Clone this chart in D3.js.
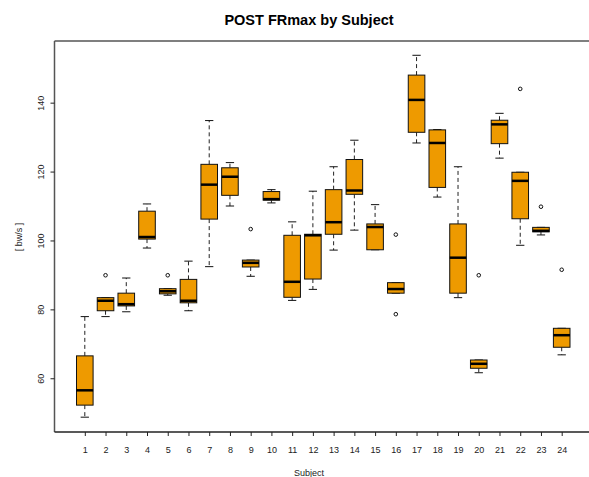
<!DOCTYPE html>
<html><head><meta charset="utf-8">
<script src="https://cdn.jsdelivr.net/npm/d3@7"></script>
<style>body{margin:0;background:#fff}svg{display:block}text{font-family:"Liberation Sans",Arial,sans-serif}</style>
</head><body><svg id="c" width="589" height="477"></svg>
<script>
const subjects = d3.range(1, 25);
const lowW  = [48.7,77.9,79.3,97.8,84.1,79.6,92.4,110.0,89.6,110.9,82.6,85.8,97.2,103.0,97.3,84.7,128.3,112.6,83.4,61.6,123.9,98.6,101.6,66.8];
const q1    = [52.2,79.6,81.0,100.4,84.5,81.9,106.2,113.1,92.3,111.7,83.5,88.8,101.8,113.4,97.3,84.7,131.4,115.4,84.7,62.9,128.1,106.3,102.5,69.0];
const med   = [56.5,82.5,81.5,101.0,85.25,82.5,116.2,118.5,93.5,112.0,88.0,101.5,105.3,114.5,103.9,85.9,140.8,128.3,95.0,64.2,133.7,117.3,102.8,72.5];
const q3    = [66.5,83.4,84.7,108.5,86.0,88.7,122.1,121.1,94.3,114.2,101.5,101.8,114.75,123.5,104.8,87.75,148.0,132.1,104.8,65.3,134.9,119.8,103.8,74.5];
const highW = [77.9,83.4,89.1,110.6,86.0,94.0,134.8,122.6,94.3,114.75,105.4,114.3,121.4,129.1,110.4,87.75,153.75,132.2,121.4,65.3,136.9,119.8,103.8,74.5];
const outliers = [[2,89.9],[5,89.9],[9,103.3],[16,101.7],[16,78.6],[20,89.9],[22,144.0],[23,109.8],[24,91.5]];
const yTicks = [60,80,100,120,140];
const title = "POST FRmax by Subject";
const xTitle = "Subject";
const yTitle = "[ bw/s ]";

const svg = d3.select("#c");
const x = d3.scaleLinear().domain([1,24]).range([84.8,561.7]);
const y = d3.scaleLinear().domain([44.4,157.9]).range([432,41]);
const unit = x(2)-x(1);
const bw = 0.8*unit, cw = 0.4*unit;
const fill = "#EE9A00";

// frame
svg.append("line").attr("x1",54.5).attr("x2",600).attr("y1",41).attr("y2",41).attr("stroke","#555").attr("stroke-width",1.5);
svg.append("line").attr("x1",54.5).attr("x2",54.5).attr("y1",41).attr("y2",432).attr("stroke","#555").attr("stroke-width",1.5);
svg.append("line").attr("x1",54.5).attr("x2",600).attr("y1",432).attr("y2",432).attr("stroke","#222").attr("stroke-width",1.5);

// y axis
const ya = svg.append("g").attr("transform","translate(54.5,0)")
  .call(d3.axisLeft(y).tickValues(yTicks).tickSize(4).tickFormat(d3.format("d")));
ya.select(".domain").remove();
ya.selectAll(".tick line").attr("stroke","#222");
ya.selectAll(".tick text").attr("font-size",9).attr("fill","#222")
  .attr("transform", "translate(-11,0) rotate(-90)")
  .attr("x",0).attr("dy","0").attr("text-anchor","middle").attr("y",0);

// x axis
const xa = svg.append("g").attr("transform","translate(0,432)")
  .call(d3.axisBottom(x).tickValues(subjects).tickSize(4).tickFormat(d3.format("d")));
xa.select(".domain").remove();
xa.selectAll(".tick line").attr("stroke","#222");
xa.selectAll(".tick text").attr("font-size",9).attr("fill","#222").attr("y",15).attr("dy","0.71em");

// titles
svg.append("text").attr("x",309).attr("y",25).attr("text-anchor","middle").attr("font-size",14.5).attr("font-weight","bold").text(title);
svg.append("text").attr("x",309).attr("y",476).attr("text-anchor","middle").attr("font-size",9).attr("fill","#222").text(xTitle);
svg.append("text").attr("transform","translate(22,237) rotate(-90)").attr("text-anchor","middle").attr("font-size",9).attr("fill","#222").text(yTitle);

// boxes
const g = svg.append("g");
subjects.forEach((s,i)=>{
  const cx = x(s);
  if (highW[i] > q3[i]) {
    g.append("line").attr("x1",cx).attr("x2",cx).attr("y1",y(q3[i])).attr("y2",y(highW[i])).attr("stroke","#222").attr("stroke-dasharray","4,3");
  }
  if (lowW[i] < q1[i]) {
    g.append("line").attr("x1",cx).attr("x2",cx).attr("y1",y(q1[i])).attr("y2",y(lowW[i])).attr("stroke","#222").attr("stroke-dasharray","4,3");
  }
  g.append("line").attr("x1",cx-cw/2).attr("x2",cx+cw/2).attr("y1",y(highW[i])).attr("y2",y(highW[i])).attr("stroke","#111");
  g.append("line").attr("x1",cx-cw/2).attr("x2",cx+cw/2).attr("y1",y(lowW[i])).attr("y2",y(lowW[i])).attr("stroke","#111");
  g.append("rect").attr("x",cx-bw/2).attr("width",bw).attr("y",y(q3[i])).attr("height",Math.max(0.5,y(q1[i])-y(q3[i])))
    .attr("fill",fill).attr("stroke","#111").attr("stroke-width",1);
  g.append("line").attr("x1",cx-bw/2).attr("x2",cx+bw/2).attr("y1",y(med[i])).attr("y2",y(med[i])).attr("stroke","#000").attr("stroke-width",2.5);
});
outliers.forEach(([s,v])=>{
  g.append("circle").attr("cx",x(s)).attr("cy",y(v)).attr("r",1.8).attr("fill","none").attr("stroke","#111").attr("stroke-width",1);
});
</script></body></html>
